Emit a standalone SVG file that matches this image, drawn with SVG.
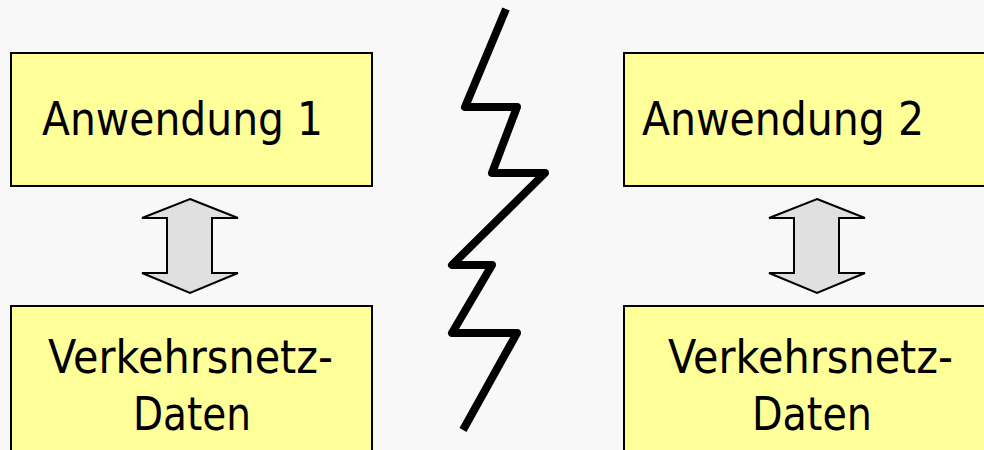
<svg xmlns="http://www.w3.org/2000/svg" width="984" height="450" viewBox="0 0 984 450">
<style>
.box{fill:#ffff99;stroke:#000;stroke-width:2}
.t{font-family:"DejaVu Sans",Verdana,sans-serif;font-size:47px;fill:#000}
.arr{fill:#e0e0e0;stroke:#000;stroke-width:2;stroke-linejoin:miter}
</style>
<rect width="984" height="450" fill="#f8f8f8"/>
<g id="anw1"><rect class="box" x="11" y="53" width="361" height="133"/><text class="t" x="42" y="135" textLength="281" lengthAdjust="spacingAndGlyphs">Anwendung 1</text></g>
<g id="anw2"><rect class="box" x="624" y="53" width="370" height="133"/><text class="t" x="642" y="135" textLength="282" lengthAdjust="spacingAndGlyphs">Anwendung 2</text></g>
<g id="daten1"><rect class="box" x="11" y="306" width="361" height="154"/><text class="t" x="48" y="373" textLength="285" lengthAdjust="spacingAndGlyphs">Verkehrsnetz-</text><text class="t" x="133" y="430" textLength="118" lengthAdjust="spacingAndGlyphs">Daten</text></g>
<g id="daten2"><rect class="box" x="624" y="306" width="370" height="154"/><text class="t" x="668" y="373" textLength="285" lengthAdjust="spacingAndGlyphs">Verkehrsnetz-</text><text class="t" x="752" y="430" textLength="120" lengthAdjust="spacingAndGlyphs">Daten</text></g>
<g id="connectors">
<path class="arr" d="M190,199 L238,218 L212,218 L212,273 L238,273 L190,293 L142,273 L167,273 L167,218 L142,218 Z"/>
<path class="arr" d="M817,199 L865,218 L839,218 L839,273 L865,273 L817,293 L769,273 L794,273 L794,218 L769,218 Z"/>
</g>
<g id="blitz"><polyline points="506,9 465,107 517,107 492,173 545,173 452,265 492,265 452,333 517,333 463,430" fill="none" stroke="#000" stroke-width="8" stroke-linejoin="round"/></g>
</svg>
